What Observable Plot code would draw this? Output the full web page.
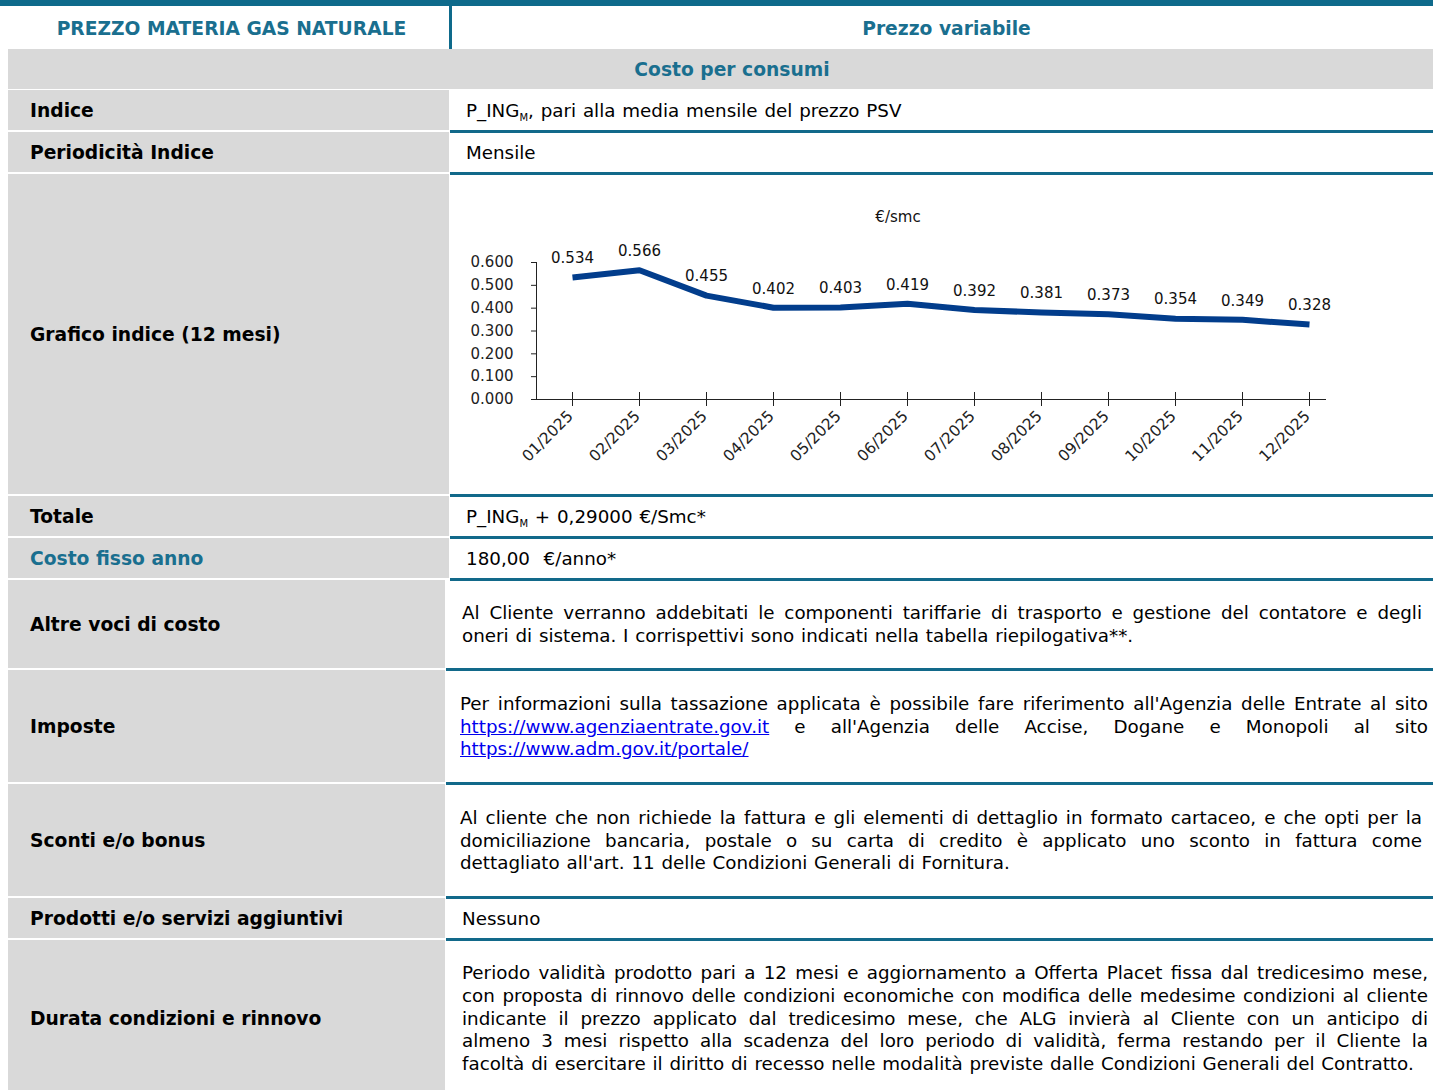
<!DOCTYPE html>
<html><head><meta charset="utf-8">
<script src="https://cdn.jsdelivr.net/npm/d3@7"></script>
<script src="https://cdn.jsdelivr.net/npm/@observablehq/plot@0.6"></script>
<style>
html,body{margin:0;padding:0;background:#fff;}
body{width:1433px;height:1090px;overflow:hidden;position:relative;font-family:"DejaVu Sans",sans-serif;color:#000;}
.a{position:absolute;box-sizing:border-box;}
.topbar{left:0;top:0;width:1433px;height:6px;background:#0e6a8b;}
.hdr{top:6px;height:43px;display:flex;align-items:center;justify-content:center;font-weight:bold;color:#1a6f8f;font-size:18.7px;padding-top:1px;}
.vline{left:449px;top:6px;width:3px;height:43px;background:#0e6a8b;}
.sub{left:8px;top:49px;width:1425px;height:40px;background:#d9d9d9;display:flex;align-items:center;justify-content:center;font-weight:bold;color:#1a6f8f;font-size:18.7px;padding-left:23px;padding-top:1px;}
.lab{background:#d9d9d9;display:flex;align-items:center;padding-left:22px;font-weight:bold;font-size:18.7px;padding-top:1px;}
.val{right:0;border-bottom:3px solid #12698a;display:flex;flex-direction:column;justify-content:center;font-size:18.3px;line-height:22.7px;word-spacing:1px;padding-top:2px;}
.j{text-align:justify;text-align-last:justify;white-space:nowrap;}
sub{font-size:10px;vertical-align:-4px;line-height:0;}
a{color:#0000ee;text-decoration:underline;}
</style></head>
<body>
<div class="a topbar"></div>
<div class="a hdr" style="left:7px;width:449px;">PREZZO MATERIA GAS NATURALE</div>
<div class="a vline"></div>
<div class="a hdr" style="left:460px;width:973px;">Prezzo variabile</div>
<div class="a sub">Costo per consumi</div>

<div class="a lab" style="left:8px;width:441px;top:90px;height:40px;">Indice</div>
<div class="a val" style="left:450px;top:90px;height:43px;padding-left:16px;"><div>P_ING<sub>M</sub>, pari alla media mensile del prezzo PSV</div></div>

<div class="a lab" style="left:8px;width:441px;top:132px;height:40px;">Periodicità Indice</div>
<div class="a val" style="left:450px;top:132px;height:43px;padding-left:16px;"><div>Mensile</div></div>

<div class="a lab" style="left:8px;width:441px;top:174px;height:320px;">Grafico indice (12 mesi)</div>
<div class="a val" id="chartcell" style="left:450px;top:174px;height:323px;display:block;padding-top:0;"></div>

<div class="a lab" style="left:8px;width:441px;top:496px;height:40px;">Totale</div>
<div class="a val" style="left:450px;top:496px;height:43px;padding-left:16px;"><div>P_ING<sub>M</sub> + 0,29000 €/Smc*</div></div>

<div class="a lab" style="left:8px;width:441px;top:538px;height:40px;color:#1a6f8f;">Costo fisso anno</div>
<div class="a val" style="left:450px;top:538px;height:43px;padding-left:16px;"><div>180,00&nbsp; €/anno*</div></div>

<div class="a lab" style="left:8px;width:437px;top:580px;height:88px;">Altre voci di costo</div>
<div class="a val" style="left:446px;top:580px;height:91px;padding-left:16px;padding-right:11px;">
<div class="j">Al Cliente verranno addebitati le componenti tariffarie di trasporto e gestione del contatore e degli</div>
<div>oneri di sistema. I corrispettivi sono indicati nella tabella riepilogativa**.</div>
</div>

<div class="a lab" style="left:8px;width:437px;top:670px;height:112px;">Imposte</div>
<div class="a val" style="left:446px;top:670px;height:115px;padding-left:14px;padding-right:5px;">
<div class="j">Per informazioni sulla tassazione applicata è possibile fare riferimento all'Agenzia delle Entrate al sito</div>
<div class="j"><a>https://www.agenziaentrate.gov.it</a> e all'Agenzia delle Accise, Dogane e Monopoli al sito</div>
<div><a>https://www.adm.gov.it/portale/</a></div>
</div>

<div class="a lab" style="left:8px;width:437px;top:784px;height:112px;">Sconti e/o bonus</div>
<div class="a val" style="left:446px;top:784px;height:115px;padding-left:14px;padding-right:11px;">
<div class="j">Al cliente che non richiede la fattura e gli elementi di dettaglio in formato cartaceo, e che opti per la</div>
<div class="j">domiciliazione bancaria, postale o su carta di credito è applicato uno sconto in fattura come</div>
<div>dettagliato all'art. 11 delle Condizioni Generali di Fornitura.</div>
</div>

<div class="a lab" style="left:8px;width:437px;top:898px;height:40px;">Prodotti e/o servizi aggiuntivi</div>
<div class="a val" style="left:446px;top:898px;height:43px;padding-left:16px;"><div>Nessuno</div></div>

<div class="a lab" style="left:8px;width:437px;top:940px;height:156px;">Durata condizioni e rinnovo</div>
<div class="a val" style="left:446px;top:940px;height:159px;padding-left:16px;padding-right:5px;">
<div class="j">Periodo validità prodotto pari a 12 mesi e aggiornamento a Offerta Placet fissa dal tredicesimo mese,</div>
<div class="j">con proposta di rinnovo delle condizioni economiche con modifica delle medesime condizioni al cliente</div>
<div class="j">indicante il prezzo applicato dal tredicesimo mese, che ALG invierà al Cliente con un anticipo di</div>
<div class="j">almeno 3 mesi rispetto alla scadenza del loro periodo di validità, ferma restando per il Cliente la</div>
<div style="white-space:nowrap;">facoltà di esercitare il diritto di recesso nelle modalità previste dalle Condizioni Generali del Contratto.</div>
</div>

<script>
const months = ["01/2025","02/2025","03/2025","04/2025","05/2025","06/2025","07/2025","08/2025","09/2025","10/2025","11/2025","12/2025"];
const values = [0.534,0.566,0.455,0.402,0.403,0.419,0.392,0.381,0.373,0.354,0.349,0.328];
const yTicks = [0,0.1,0.2,0.3,0.4,0.5,0.6];
const unit = "€/smc";

const data = months.map((m,i)=>({month:m, value:values[i]}));
const fmt = d3.format(".3f");

const chart = Plot.plot({
  width: 983, height: 320,
  marginLeft: 86, marginRight: 108, marginTop: 88, marginBottom: 95,
  style: {fontFamily: "DejaVu Sans", fontSize: "15px", color: "#222", background: "transparent", overflow: "visible"},
  x: {type: "point", domain: months, range: [119, 861], padding: 0, label: null},
  y: {domain: [0, 0.6], label: null},
  marks: [
    Plot.frame({anchor: "left", stroke: "#222"}),
    Plot.frame({anchor: "bottom", stroke: "#222"}),
    Plot.axisY({ticks: yTicks, tickSize: 5, tickPadding: 18, tickFormat: fmt, label: null}),
    Plot.axisX({tickSize: 14, dy: -7, tickFormat: () => "", label: null}),
    Plot.axisX({tickSize: 0, tickRotate: -45, tickPadding: 14, dx: -2, fontSize: 15.5, label: null}),
    Plot.line(data, {x: "month", y: "value", stroke: "#023d8c", strokeWidth: 6, strokeLinecap: "butt", strokeLinejoin: "round"}),
    Plot.text(data, {x: "month", y: "value", text: d => fmt(d.value), dy: -19, fill: "#111"}),
    Plot.text([unit], {frameAnchor: "top", text: d => d, dx: -33, dy: -51, fill: "#111"})
  ]
});
document.getElementById("chartcell").appendChild(chart);
</script>
</body></html>
